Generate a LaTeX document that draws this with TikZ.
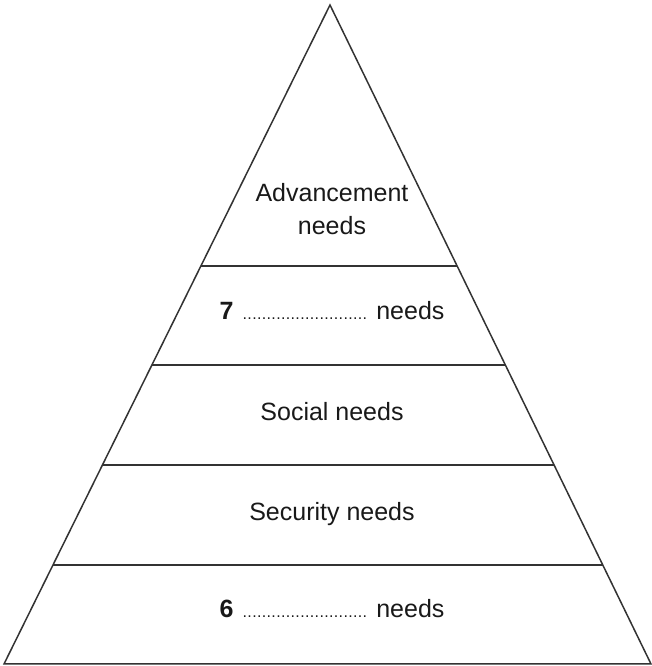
\documentclass[tikz,border=0pt]{standalone}
\usepackage{fontspec}
\setmainfont{Liberation Sans}
\usetikzlibrary{calc}
\definecolor{pyline}{HTML}{333333}
\newcommand{\gapdots}{\makebox[129pt]{\fontsize{16}{16}\selectfont\cleaders\hbox to 4.8pt{\hss.\hss}\hfill}}

\begin{document}
\begin{tikzpicture}[
  x=1pt, y=1pt,
  edge/.style={draw=pyline, line width=1.5pt, line join=miter},
  level/.style={draw=pyline, line width=1.5pt},
  lbl/.style={inner sep=0pt, anchor=base, font=\fontsize{25}{33}\selectfont, text=black!90},
  lbltop/.style={inner sep=0pt, align=center, font=\fontsize{25}{33}\selectfont, text=black!90}
]
\useasboundingbox (0,0) rectangle (652,666);
% pyramid outline
\coordinate (apex) at (330,661);
\coordinate (bl) at (4,2);
\coordinate (br) at (651,2);
\draw[edge] (apex) -- (bl) -- (br) -- cycle;
% dividing levels
\foreach \t [count=\i] in {0.396,0.546,0.698,0.850} {
  \coordinate (l\i) at ($(apex)!\t!(bl)$);
  \coordinate (r\i) at ($(apex)!\t!(br)$);
  \draw[level] (l\i) -- (r\i);
}
% labels
\node[lbltop] (advance) at (332,457) {Advancement\\needs};
\node[lbl] (esteem) at (332,346) {\textbf{7} \gapdots{} needs};
\node[lbl] (social) at (332,245) {Social needs};
\node[lbl] (security) at (332,145) {Security needs};
\node[lbl] (physio) at (332,48) {\textbf{6} \gapdots{} needs};
\end{tikzpicture}
\end{document}
